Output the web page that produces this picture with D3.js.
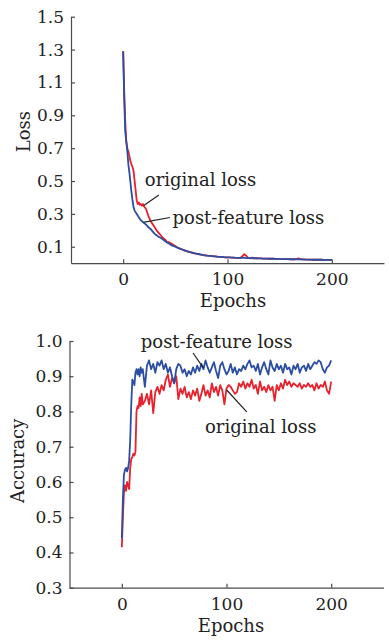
<!DOCTYPE html>
<html><head><meta charset="utf-8">
<script src="https://cdn.jsdelivr.net/npm/d3@7"></script>
<style>
html,body{margin:0;padding:0;background:#fff;}
svg{display:block;}
text{font-family:"DejaVu Serif",serif;fill:#222;}
</style></head>
<body>
<svg id="chart" width="389" height="640"></svg>
<script>
// ---------- DATA ----------
// epochs: 0..20 step 1, then 22..200 step 2
const epochsFine = [0,1,2,3,4,5,6,7,8,9,10,11,12,13,14,15,16,17,18,19,20];
const epochsCoarse = d3.range(22, 201, 2);
const epochs = epochsFine.concat(epochsCoarse);

const lossPost = [1.29,1.0,0.80,0.74,0.68,0.60,0.55,0.49,0.43,0.38,0.34,0.32,0.31,0.30,0.29,0.28,0.27,0.262,0.255,0.25,0.245,
 0.235,0.22,0.21,0.195,0.18,0.17,0.16,0.155,0.145,0.135,0.125,0.12,0.11,0.105,0.10,0.095,0.088,0.085,0.08,0.075,
 0.072,0.068,0.065,0.062,0.058,0.056,0.054,0.05,0.048,0.046,0.045,0.044,0.042,0.041,0.04,0.039,0.038,0.037,0.036,0.035,
 0.035,0.034,0.034,0.033,0.033,0.032,0.032,0.033,0.031,0.031,0.03,0.034,0.03,0.03,0.029,0.029,0.028,0.028,0.028,0.027,
 0.027,0.027,0.026,0.026,0.026,0.025,0.025,0.025,0.025,0.024,0.024,0.024,0.023,0.023,0.023,0.023,0.022,0.022,0.022,0.022,
 0.021,0.021,0.021,0.021,0.021,0.02,0.02,0.02,0.02,0.02];
const lossOrig = [1.29,1.05,0.86,0.74,0.70,0.68,0.65,0.62,0.60,0.585,0.56,0.50,0.44,0.38,0.36,0.37,0.355,0.36,0.35,0.36,0.345,
 0.33,0.29,0.26,0.24,0.22,0.20,0.185,0.17,0.155,0.145,0.13,0.128,0.12,0.112,0.105,0.095,0.09,0.085,0.08,0.075,
 0.07,0.067,0.064,0.06,0.058,0.055,0.052,0.05,0.048,0.047,0.045,0.044,0.043,0.042,0.04,0.039,0.038,0.037,0.036,0.035,
 0.035,0.034,0.034,0.033,0.033,0.032,0.04,0.055,0.045,0.031,0.031,0.03,0.03,0.03,0.029,0.029,0.028,0.028,0.028,0.027,
 0.027,0.027,0.026,0.026,0.026,0.025,0.025,0.025,0.025,0.024,0.024,0.024,0.025,0.03,0.024,0.023,0.023,0.022,0.022,0.022,
 0.021,0.021,0.021,0.021,0.021,0.02,0.02,0.02,0.02,0.02];

const accPost = [0.44,0.55,0.62,0.635,0.64,0.63,0.64,0.66,0.72,0.82,0.89,0.885,0.875,0.91,0.92,0.905,0.92,0.90,0.925,0.91,0.92,
 0.87,0.93,0.945,0.92,0.935,0.91,0.94,0.93,0.945,0.92,0.935,0.91,0.925,0.90,0.88,0.92,0.935,0.93,0.91,0.92,
 0.90,0.915,0.905,0.925,0.91,0.93,0.915,0.935,0.92,0.945,0.925,0.91,0.925,0.94,0.915,0.895,0.93,0.94,0.92,0.905,
 0.915,0.935,0.91,0.925,0.905,0.92,0.915,0.93,0.92,0.935,0.945,0.925,0.93,0.915,0.935,0.905,0.925,0.94,0.92,0.905,
 0.945,0.925,0.915,0.935,0.92,0.93,0.91,0.935,0.92,0.925,0.905,0.93,0.92,0.935,0.91,0.925,0.93,0.915,0.935,0.92,
 0.93,0.94,0.935,0.945,0.94,0.92,0.91,0.925,0.93,0.945];
const accOrig = [0.415,0.50,0.57,0.59,0.575,0.60,0.59,0.58,0.64,0.665,0.67,0.68,0.675,0.685,0.80,0.815,0.81,0.84,0.815,0.85,0.82,
 0.83,0.85,0.82,0.86,0.795,0.855,0.87,0.85,0.875,0.86,0.89,0.905,0.87,0.895,0.88,0.90,0.835,0.865,0.85,0.87,
 0.84,0.855,0.835,0.86,0.845,0.865,0.83,0.85,0.875,0.845,0.86,0.84,0.88,0.855,0.87,0.845,0.875,0.86,0.82,0.865,
 0.875,0.87,0.86,0.85,0.855,0.88,0.87,0.885,0.865,0.88,0.87,0.89,0.865,0.875,0.85,0.885,0.86,0.87,0.855,0.875,
 0.86,0.87,0.83,0.875,0.86,0.88,0.865,0.89,0.875,0.885,0.87,0.88,0.875,0.87,0.88,0.865,0.875,0.87,0.88,0.87,
 0.875,0.86,0.88,0.865,0.875,0.87,0.885,0.86,0.85,0.885];

const xTicks = [0,100,200];
const lossTicks = [0.1,0.3,0.5,0.7,0.9,1.1,1.3,1.5];
const accTicks = [0.3,0.4,0.5,0.6,0.7,0.8,0.9,1.0];

const seriesLabels = ["original loss","post-feature loss"];
// annotation anchors in data coordinates: [textX, textY, lineX1, lineY1, lineX2, lineY2]
const lossNotes = [[20.8,0.467,34.2,0.415,19.8,0.351],[47.3,0.239,44.8,0.278,19.4,0.248]];
const accNotes  = [[79.5,0.738,100.2,0.861,119.3,0.799],[18.1,0.979,68,0.966,78.1,0.923]];

// ---------- DRAW ----------
const RED = "#e8222c", BLUE = "#2b4ea3", AXIS = "#4a4a4a";
const svg = d3.select("#chart");
svg.append("rect").attr("width",389).attr("height",640).attr("fill","#fff");

function panel(cfg){
  const x = d3.scaleLinear().domain([-50,250]).range(cfg.xr);
  const y = d3.scaleLinear().domain(cfg.yd).range(cfg.yr);
  const g = svg.append("g");
  const xa = g.append("g").attr("transform",`translate(0,${cfg.yr[0]})`)
    .call(d3.axisBottom(x).tickValues(xTicks).tickFormat(d3.format("d")).tickSizeInner(-4).tickSizeOuter(0).tickPadding(10));
  const ya = g.append("g").attr("transform",`translate(${cfg.xr[0]},0)`)
    .call(d3.axisLeft(y).tickValues(cfg.ticks).tickFormat(d3.format(".1f")).tickSizeInner(-4).tickSizeOuter(0).tickPadding(7));
  [xa,ya].forEach(a=>{
    a.select(".domain").attr("stroke",AXIS).attr("stroke-width",1.2);
    a.selectAll(".tick line").attr("stroke",AXIS).attr("stroke-width",1.2);
    a.selectAll("text").attr("font-family","DejaVu Serif").attr("font-size",17).attr("fill","#222");
  });
  const line = d3.line().x((d,i)=>x(epochs[i])).y(d=>y(d));
  g.append("path").datum(cfg.red).attr("d",line).attr("fill","none").attr("stroke",RED).attr("stroke-width",1.8).attr("stroke-linejoin","round");
  g.append("path").datum(cfg.blue).attr("d",line).attr("fill","none").attr("stroke",BLUE).attr("stroke-width",1.8).attr("stroke-linejoin","round");
  cfg.notes.forEach((n,i)=>{
    g.append("line").attr("x1",x(n[2])).attr("y1",y(n[3])).attr("x2",x(n[4])).attr("y2",y(n[5]))
      .attr("stroke","#222").attr("stroke-width",1.2);
    g.append("text").attr("x",x(n[0])).attr("y",y(n[1])).attr("font-size",18).text(seriesLabels[i]);
  });
  g.append("text").attr("x",cfg.xlab[0]).attr("y",cfg.xlab[1]).attr("text-anchor","middle").attr("font-size",18).text("Epochs");
  g.append("text").attr("transform",`translate(${cfg.ylab[0]},${cfg.ylab[1]}) rotate(-90)`).attr("text-anchor","middle").attr("font-size",18).text(cfg.ylabel);
}

panel({xr:[71,384], yd:[0,1.5], yr:[263.2,16.7], ticks:lossTicks, red:lossOrig, blue:lossPost, notes:lossNotes, xlab:[233,306.7], ylab:[30,131.7], ylabel:"Loss"});
panel({xr:[69.5,383.5], yd:[0.3,1.0], yr:[587.7,341], ticks:accTicks, red:accOrig, blue:accPost, notes:accNotes, xlab:[231,631.7], ylab:[24,460.8], ylabel:"Accuracy"});
</script>
</body></html>
